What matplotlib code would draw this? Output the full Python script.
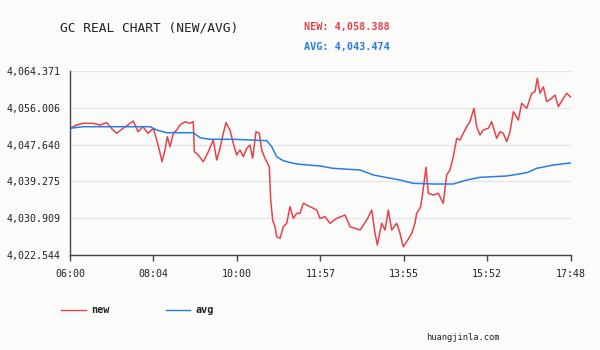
import numpy as np
import matplotlib
matplotlib.use("Agg")
import matplotlib.pyplot as plt
from matplotlib.lines import Line2D

# minutes after 06:00 and price
new_minutes = [0, 9.5, 18.4, 32.5, 42.4, 51.9, 60.8, 66.0, 74.9, 82.0, 89.5, 96.2, 103.2, 110.3,
               117.8, 122.6, 126.3, 130.1, 134.3, 137.6, 141.4, 146.1, 150.9, 155.5, 162.6, 169.7,
               174.3, 175.8, 181.4, 188.5, 195.6, 202.6, 207.4, 212.1, 216.8, 220.6, 226.2, 230.9,
               235.7, 240.4, 245.1, 249.9, 254.5, 258.3, 263.0, 267.7, 271.1, 275.7, 281.8, 283.8,
               286.6, 289.9, 292.3, 297.0, 301.6, 306.4, 311.1, 315.8, 320.6, 325.2, 329.9, 339.4,
               348.9, 353.5, 360.6, 367.7, 377.1, 388.9, 396.0, 403.0, 410.1, 414.8, 419.6, 426.7,
               431.3, 434.6, 440.8, 445.5, 450.1, 454.9, 462.0, 466.6, 471.3, 476.1, 483.2, 487.8,
               490.2, 495.9, 498.7, 503.4, 506.6, 513.7, 520.8, 527.8, 532.6, 537.3, 542.0, 546.8,
               551.4, 556.1, 560.9, 565.6, 571.2, 575.0, 579.7, 584.4, 591.5, 596.3, 603.3, 608.0,
               612.7, 617.5, 622.2, 626.9, 633.9, 638.7, 645.8, 652.9, 657.5, 660.8, 664.6, 669.3,
               674.1, 681.1, 685.8, 690.5, 697.6, 702.4, 708]
new_values = [4051.32, 4052.07, 4052.45, 4052.45, 4052.07, 4052.59, 4050.93, 4050.18, 4051.32,
              4052.07, 4052.97, 4050.55, 4051.68, 4050.18, 4051.32, 4048.67, 4046.40, 4043.75,
              4046.40, 4049.41, 4047.15, 4050.18, 4050.93, 4052.07, 4052.81, 4052.45, 4052.81,
              4046.02, 4045.27, 4043.75, 4046.02, 4048.67, 4044.13, 4046.79, 4050.18, 4052.59,
              4050.93, 4047.92, 4045.27, 4046.40, 4044.88, 4046.79, 4047.53, 4044.52, 4050.55,
              4050.18, 4046.40, 4044.52, 4042.62, 4035.07, 4030.54, 4029.02, 4026.75, 4026.39,
              4029.02, 4029.79, 4033.55, 4030.92, 4032.06, 4032.06, 4034.32, 4033.55, 4032.80,
              4030.92, 4031.29, 4029.79, 4030.92, 4031.67, 4029.02, 4028.66, 4028.27, 4029.41,
              4030.54, 4032.80, 4027.52, 4024.87, 4029.79, 4028.27, 4032.80, 4028.27, 4029.79,
              4027.52, 4024.49, 4025.62, 4027.52, 4029.79, 4032.06, 4033.55, 4036.59, 4042.48,
              4036.59, 4036.20, 4036.59, 4034.32, 4040.74, 4041.87, 4044.88, 4049.05, 4048.67,
              4050.18, 4051.68, 4052.81, 4055.85, 4051.68, 4049.80, 4050.93, 4051.32, 4052.81,
              4049.05, 4050.55, 4050.18, 4048.28, 4050.55, 4055.08, 4053.20, 4056.98, 4055.85,
              4059.25, 4059.61, 4062.65, 4059.25, 4060.74, 4057.35, 4058.12, 4058.86, 4056.21,
              4058.12, 4059.25, 4058.388]

avg_minutes = [0, 18.4, 113.1, 122.6, 136.7, 174.3, 183.8, 197.9, 230.9, 278.2, 285.3, 292.3,
               301.6, 315.8, 325.2, 353.5, 371.9, 410.1, 428.9, 466.6, 485.4, 513.7, 542.0,
               560.9, 579.7, 617.5, 645.8, 659.9, 683.4, 708]
avg_values = [4051.32, 4051.68, 4051.68, 4050.93, 4050.32, 4050.32, 4049.19, 4048.83, 4048.83,
              4048.51, 4047.15, 4044.88, 4043.98, 4043.39, 4043.16, 4042.78, 4042.25, 4041.87,
              4040.74, 4039.60, 4038.85, 4038.70, 4038.70, 4039.60, 4040.21, 4040.51, 4041.26,
              4042.25, 4043.00, 4043.474]

y_ticks = [4022.544, 4030.909, 4039.275, 4047.640, 4056.006, 4064.371]
x_labels = ["06:00", "08:04", "10:00", "11:57", "13:55", "15:52", "17:48"]

red = "#e8414b"
blue = "#2a7be4"
bg = "#fbfcfa"
mono = "DejaVu Sans Mono"

fig = plt.figure(figsize=(6, 3.5), dpi=100, facecolor=bg)
ax = fig.add_axes([70 / 600, 1 - 255.3 / 350, 500.7 / 600, 184.6 / 350])
ax.set_facecolor(bg)

ax.plot(new_minutes, new_values, color=red, lw=1.1)
ax.plot(avg_minutes, avg_values, color=blue, lw=1.1)

ax.set_xlim(0, 708)
ax.set_ylim(y_ticks[0], y_ticks[-1])
ax.set_yticks(y_ticks)
ax.set_yticklabels(["{:,.3f}".format(v) for v in y_ticks], family=mono, fontsize=7.2, color="#222222")
ax.set_xticks(np.linspace(0, 708, 7))
ax.set_xticklabels(x_labels, family=mono, fontsize=7.2, color="#222222")
ax.tick_params(axis="y", length=0, pad=7)
ax.tick_params(axis="x", length=4, width=1, color="#444444", pad=6)

ax.grid(axis="y", color="#e6e6ea", lw=1)
ax.set_axisbelow(True)
for s in ["top", "right"]:
    ax.spines[s].set_visible(False)
for s in ["left", "bottom"]:
    ax.spines[s].set_color("#444444")
    ax.spines[s].set_linewidth(1)

# header
fig.text(60 / 600, 1 - 28 / 350, "GC REAL CHART (NEW/AVG)", family=mono, fontsize=9.3,
         color="#222222", va="center")
fig.text(304 / 600, 1 - 27 / 350, "NEW: {:,.3f}".format(new_values[-1]), family=mono,
         fontsize=7.3, weight="bold", color=red, va="center")
fig.text(304 / 600, 1 - 47 / 350, "AVG: {:,.3f}".format(avg_values[-1]), family=mono,
         fontsize=7.3, weight="bold", color=blue, va="center")

# legend
ly = 1 - 310.3 / 350
fig.add_artist(Line2D([61 / 600, 86 / 600], [ly, ly], color=red, lw=1.0))
fig.text(91 / 600, ly, "new", family=mono, fontsize=7.3, weight="bold", color="#222222", va="center")
fig.add_artist(Line2D([166 / 600, 190 / 600], [ly, ly], color=blue, lw=1.0))
fig.text(196 / 600, ly, "avg", family=mono, fontsize=7.3, weight="bold", color="#222222", va="center")

fig.text(426 / 600, 1 - 337.3 / 350, "huangjinla.com", family=mono, fontsize=6.3,
         color="#222222", va="center")

fig.savefig("out.png", dpi=100, facecolor=bg)
